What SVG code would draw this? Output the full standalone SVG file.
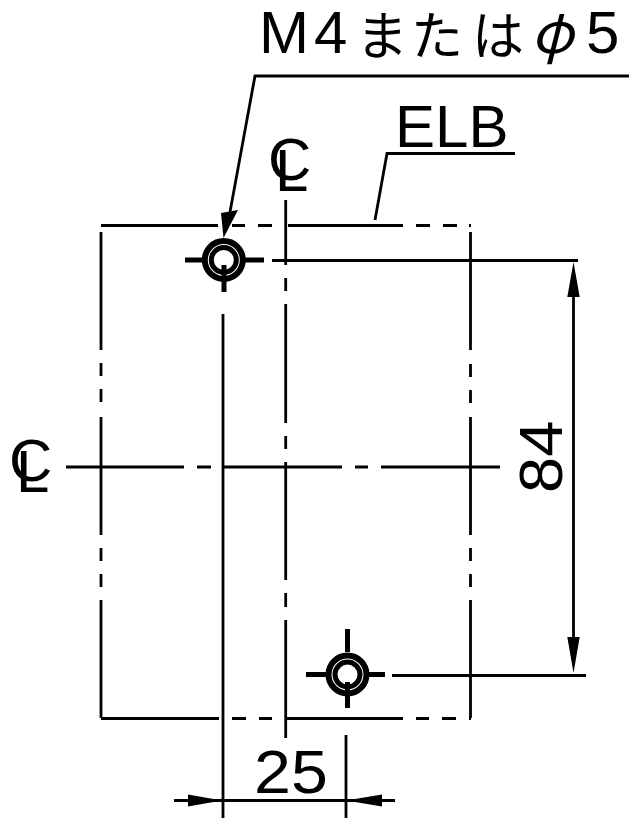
<svg xmlns="http://www.w3.org/2000/svg" width="640" height="831" viewBox="0 0 640 831">
<style>
.l{fill:none;stroke:#000;stroke-width:2.8}
.t{stroke:#000;stroke-width:5;fill:none}
.a{fill:#000;stroke:none}
text{font-family:"Liberation Sans",Arial,"Noto Sans CJK JP",sans-serif;font-size:60px;fill:#000}
.k{font-family:"Noto Sans CJK JP",sans-serif;font-size:52px}
</style>
<rect width="640" height="831" fill="#fff"/>
<g id="outline">
<path class="l" d="M101 225.5H218M232 225.5H245M258 225.5H272M288 225.5H403M416 225.5H430M443 225.5H457M469 225.5H471"/>
<path class="l" d="M101 718.5H219M232 718.5H246M259 718.5H272M287 718.5H403M416 718.5H429M442 718.5H456M469 718.5H471"/>
<path class="l" d="M101 232V350M101 363V376M101 389V402M101 417V535M101 548V561M101 574V587M101 600V718"/>
<path class="l" d="M470.5 232V350M470.5 364V377M470.5 390V403M470.5 417V535M470.5 548V561M470.5 574V587M470.5 600V718"/>
</g>
<g id="centerlines">
<path class="l" d="M285.7 200V265M285.7 278V291M285.7 304V423M285.7 436V449M285.7 462V580M285.7 593V607M285.7 620V738"/>
<path class="l" d="M66 467H184M197 467H211M224 467H342M355 467H368M381 467H500"/>
<path class="l" d="M223 314V818"/>
</g>
<g id="connectors">
<path class="l" d="M272 260.5H578M392 675.5H586M346 735V818"/>
<path class="l" d="M573.5 290V645M174 800.5H395"/>
<path class="a" d="M573.5 262L579.7 297H567.3ZM573.5 673L579.7 637H567.3ZM222 800.5L188 794.5V806.5ZM346 800.5L382 794.5V806.5Z"/>
<path class="l" d="M629 76H255L230 212"/>
<path class="a" d="M223.5 238L221 213L238 210Z"/>
<path class="l" d="M515 153.5H387L375 220"/>
</g>
<g id="hole-1">
<circle cx="223.8" cy="260" r="19" fill="none" stroke="#000" stroke-width="6"/>
<circle cx="223.8" cy="260" r="12.5" fill="none" stroke="#000" stroke-width="5"/>
<path class="t" d="M185 260H207M241 260H264M224 265V292"/>
</g>
<g id="hole-2">
<circle cx="347.5" cy="674.5" r="19" fill="none" stroke="#000" stroke-width="6"/>
<circle cx="347.5" cy="674.5" r="12.5" fill="none" stroke="#000" stroke-width="5"/>
<path class="t" d="M306 674.5H329M365 674.5H385M347.5 629V652M347.5 682V708"/>
</g>
<g id="labels">
<text y="53" x="259 314">M4</text>
<text y="55" class="k" x="356 411 472">または</text>
<text y="53" x="531" style="font-family:'Noto Sans CJK JP',sans-serif;font-style:italic;font-size:56px">φ</text>
<text y="53" x="586">5</text>
<text x="395" y="147">ELB</text>
<text transform="translate(254 793) scale(1.07 1)" style="font-size:62px">25</text>
<text transform="translate(562 493) rotate(-90) scale(1.05 1)" style="font-size:62px">84</text>
<text x="268" y="180">C</text><text x="275" y="191">L</text>
<text x="9" y="481">C</text><text x="16" y="492">L</text>
</g>
</svg>
